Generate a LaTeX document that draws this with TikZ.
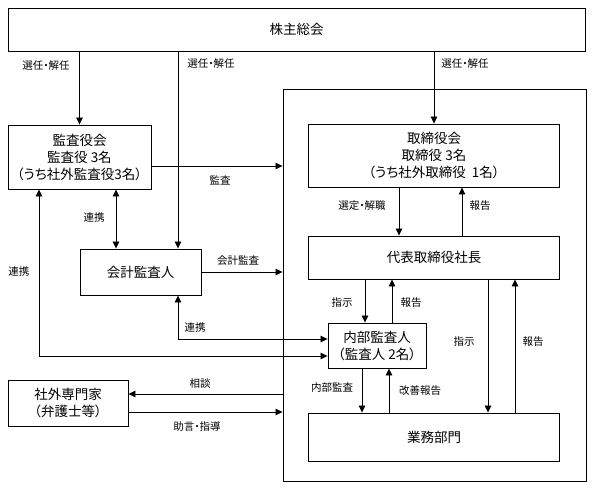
\documentclass[tikz,border=0pt]{standalone}
\usepackage{fontspec}
\setmainfont{Noto Sans CJK JP}[RawFeature=+palt]
\usepackage{tikz}
\usetikzlibrary{arrows.meta}

\begin{document}
\begin{tikzpicture}[x=1pt, y=-1pt,
	box/.style = {draw, line width=0.9pt, inner sep=0pt, align=center, font=\fontsize{13.5}{17}\selectfont},
	lbl/.style = {inner sep=0pt, font=\fontsize{10.5}{12}\selectfont},
	arr/.style = {line width=0.8pt, -{Triangle[length=7pt,width=6.5pt]}},
	darr/.style = {line width=0.8pt, {Triangle[length=7pt,width=6.5pt]}-{Triangle[length=7pt,width=6.5pt]}}]
		\useasboundingbox (0,0) rectangle (593,489);

		\node[box, minimum width=577, minimum height=43] (soukai) at (296.5,29.5) {株主総会};
		\node[draw, line width=0.9pt, minimum width=303, minimum height=392] (waku) at (434.5,285) {};

		\node[box, minimum width=143, minimum height=64] (kansa) at (79.5,157) {監査役会\\監査役 3名\\（うち社外監査役3名）};
		\node[box, minimum width=121, minimum height=46] (kaikei) at (140.5,272) {会計監査人};
		\node[box, minimum width=120, minimum height=46] (senmon) at (68,403) {社外専門家\\（弁護士等）};

		\node[box, minimum width=251, minimum height=63] (torishimari) at (434,155.5) {取締役会\\取締役 3名\\（うち社外取締役\ \ 1名）};
		\node[box, minimum width=251, minimum height=43] (daihyo) at (434,257.5) {代表取締役社長};
		\node[box, minimum width=98, minimum height=45] (naibu) at (377,345.5) {内部監査人\\（監査人 2名）};
		\node[box, minimum width=251, minimum height=48] (gyomu) at (434,437) {業務部門};

		\coordinate (renkei0) at (39,356);
		\coordinate (renkei1) at (116,0);
		\coordinate (renkei2) at (178,339);

		% from the top
		\draw[arr] (soukai.south -| kansa.north) -- (kansa.north);
		\draw[arr] (soukai.south -| renkei2) -- (kaikei.north -| renkei2);
		\draw[arr] (soukai.south -| torishimari.north) -- (torishimari.north);
		\node[lbl] (l1) at (46,66) {選任・解任};
		\node[lbl] (l2) at (211,64) {選任・解任};
		\node[lbl] (l3) at (465,64) {選任・解任};

		% left side
		\draw[arr] ([yshift=-9pt]kansa.east) -- ([yshift=-9pt]kansa.east -| waku.west);
		\node[lbl] (l4) at (220,180) {監査};
		\draw[darr] (kansa.south -| renkei1) -- (kaikei.north -| renkei1);
		\node[lbl] (l5) at (94,218) {連携};
		\draw[arr] (kaikei.east) -- (kaikei.east -| waku.west);
		\node[lbl] (l6) at (238,261) {会計監査};
		\draw[darr] (kansa.south -| renkei0) -- (renkei0) -- (renkei0 -| naibu.west);
		\node[lbl] (l7) at (19,272) {連携};
		\draw[darr] (renkei2 -| naibu.west) -- (renkei2) -- (renkei2 |- kaikei.south);
		\node[lbl] (l8) at (195,328) {連携};
		\draw[arr] ([yshift=9pt]senmon.east -| waku.west) -- ([yshift=9pt]senmon.east);
		\node[lbl] (l9) at (200,384) {相談};
		\draw[arr] ([yshift=-9pt]senmon.east) -- ([yshift=-9pt]senmon.east -| waku.west);
		\node[lbl] (l10) at (197,427) {助言・指導};

		% inside
		\draw[arr] ([xshift=-35pt]torishimari.south) -- ([xshift=-35pt]torishimari.south |- daihyo.north);
		\draw[arr] ([xshift=28pt]daihyo.north) -- ([xshift=28pt]daihyo.north |- torishimari.south);
		\node[lbl] (l11) at (362,206) {選定・解職};
		\node[lbl] (l12) at (480,206) {報告};

		\draw[arr] ([xshift=-12pt]naibu.north |- daihyo.south) -- ([xshift=-12pt]naibu.north);
		\draw[arr] ([xshift=15pt]naibu.north) -- ([xshift=15pt]naibu.north |- daihyo.south);
		\node[lbl] (l13) at (342,303) {指示};
		\node[lbl] (l14) at (411,303) {報告};

		\draw[arr] ([xshift=-15pt]naibu.south) -- ([xshift=-15pt]naibu.south |- gyomu.north);
		\draw[arr] ([xshift=12pt]naibu.south |- gyomu.north) -- ([xshift=12pt]naibu.south);
		\node[lbl] (l15) at (332,388) {内部監査};
		\node[lbl] (l16) at (420,391) {改善報告};

		\draw[arr] ([xshift=54pt]daihyo.south) -- ([xshift=54pt]daihyo.south |- gyomu.north);
		\draw[arr] ([xshift=81pt]gyomu.north) -- ([xshift=81pt]gyomu.north |- daihyo.south);
		\node[lbl] (l17) at (464,342) {指示};
		\node[lbl] (l18) at (533,342) {報告};

	\end{tikzpicture}
\end{document}
